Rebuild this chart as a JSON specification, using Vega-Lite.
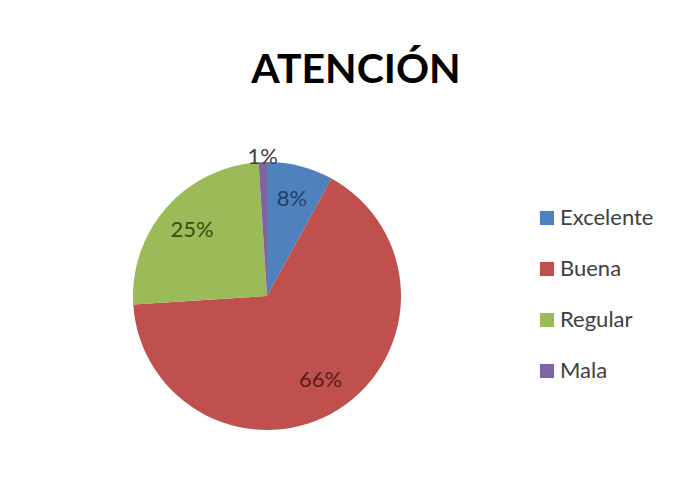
{
  "$schema": "https://vega.github.io/schema/vega-lite/v6.json",
  "width": 510,
  "height": 300,
  "autosize": "none",
  "padding": {"left": 12, "top": 146, "right": 162, "bottom": 40},
  "background": "white",
  "title": {
    "text": "ATENCIÓN",
    "font": "Lato",
    "fontWeight": "bold",
    "fontSize": 41,
    "color": "#000000",
    "anchor": "middle",
    "dx": 89,
    "offset": 54
  },
  "data": {
    "values": [
      {"categoria": "Excelente", "pct": 0.08, "orden": 1},
      {"categoria": "Buena", "pct": 0.66, "orden": 2},
      {"categoria": "Regular", "pct": 0.25, "orden": 3},
      {"categoria": "Mala", "pct": 0.01, "orden": 4}
    ]
  },
  "encoding": {
    "theta": {"field": "pct", "type": "quantitative", "stack": true},
    "order": {"field": "orden", "type": "quantitative"}
  },
  "layer": [
    {
      "mark": {"type": "arc", "outerRadius": 134},
      "encoding": {
        "color": {
          "field": "categoria",
          "type": "nominal",
          "scale": {
            "domain": ["Excelente", "Buena", "Regular", "Mala"],
            "range": ["#4F81BD", "#C0504D", "#9BBB59", "#8064A2"]
          },
          "legend": {
            "title": null,
            "orient": "none",
            "legendX": 524,
            "legendY": 61,
            "direction": "vertical",
            "symbolType": "square",
            "symbolSize": 200,
            "symbolStrokeWidth": 0,
            "labelFont": "Lato",
            "labelFontSize": 22,
            "labelColor": "#404040",
            "labelOffset": 2,
            "rowPadding": 29,
            "padding": 0
          }
        }
      }
    },
    {
      "mark": {"type": "text", "font": "Lato", "fontSize": 22, "radius": 100},
      "encoding": {
        "text": {
          "condition": {"test": "datum.categoria !== 'Mala'", "field": "pct", "type": "quantitative", "format": ".0%"},
          "value": ""
        },
        "color": {
          "field": "categoria",
          "type": "nominal",
          "scale": {
            "domain": ["Excelente", "Buena", "Regular", "Mala"],
            "range": ["#1F3F6E", "#5E1B19", "#33500F", "#404040"]
          },
          "legend": null
        }
      }
    },
    {
      "mark": {"type": "text", "font": "Lato", "fontSize": 22, "radius": 139, "color": "#404040"},
      "encoding": {
        "text": {
          "condition": {"test": "datum.categoria === 'Mala'", "field": "pct", "type": "quantitative", "format": ".0%"},
          "value": ""
        }
      }
    }
  ],
  "resolve": {"scale": {"color": "independent"}},
  "config": {"view": {"stroke": null}}
}
